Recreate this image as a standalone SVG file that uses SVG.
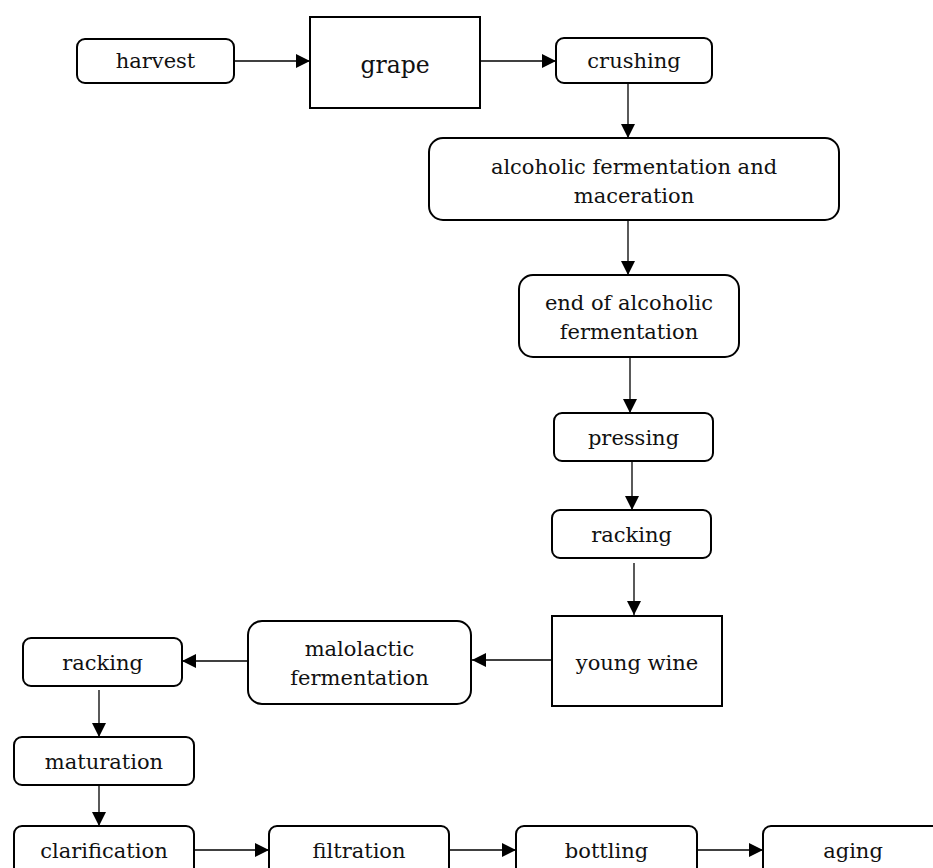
<svg xmlns="http://www.w3.org/2000/svg" width="933" height="868" viewBox="0 0 933 868">
<defs>
<marker id="ah" viewBox="0 0 14 14" refX="14" refY="7" markerWidth="14" markerHeight="14" markerUnits="userSpaceOnUse" orient="auto">
<path d="M0,0 L14,7 L0,14 Z" fill="#000"/>
</marker>
</defs>
<style>
.b{fill:#fff;stroke:#000;stroke-width:2}
.t{font-family:'DejaVu Serif','Liberation Serif',serif;font-size:21px;fill:#111;text-anchor:middle}
.big{font-size:23.5px}
.c{fill:none;stroke:#000;stroke-width:1.3;marker-end:url(#ah)}
</style>
<rect width="933" height="868" fill="#fff"/>
<g id="connectors">
<line class="c" x1="234" y1="61" x2="310" y2="61"/>
<line class="c" x1="480" y1="61" x2="556" y2="61"/>
<line class="c" x1="628" y1="84" x2="628" y2="138"/>
<line class="c" x1="628" y1="221" x2="628" y2="275"/>
<line class="c" x1="630" y1="358" x2="630" y2="413"/>
<line class="c" x1="632" y1="462" x2="632" y2="510"/>
<line class="c" x1="634" y1="563" x2="634" y2="615"/>
<line class="c" x1="552" y1="660" x2="472" y2="660"/>
<line class="c" x1="248" y1="661" x2="182" y2="661"/>
<line class="c" x1="99" y1="690" x2="99" y2="737"/>
<line class="c" x1="99" y1="785" x2="99" y2="826"/>
<line class="c" x1="194" y1="850" x2="269" y2="850"/>
<line class="c" x1="449" y1="850" x2="516" y2="850"/>
<line class="c" x1="697" y1="850" x2="763" y2="850"/>
</g>
<g id="harvest"><rect class="b" x="77" y="39" width="157" height="44" rx="8"/><text class="t" x="155.5" y="68">harvest</text></g>
<g id="grape"><rect class="b" x="310" y="17" width="170" height="91"/><text class="t big" x="395" y="73">grape</text></g>
<g id="crushing"><rect class="b" x="556" y="38" width="156" height="45" rx="8"/><text class="t" x="634" y="68">crushing</text></g>
<g id="alcoholic"><rect class="b" x="429" y="138" width="410" height="82" rx="14"/><text class="t" x="634" y="174">alcoholic fermentation and</text><text class="t" x="634" y="203">maceration</text></g>
<g id="endferm"><rect class="b" x="519" y="275" width="220" height="82" rx="14"/><text class="t" x="629" y="310">end of alcoholic</text><text class="t" x="629" y="339">fermentation</text></g>
<g id="pressing"><rect class="b" x="554" y="413" width="159" height="48" rx="8"/><text class="t" x="633.5" y="445">pressing</text></g>
<g id="racking1"><rect class="b" x="552" y="510" width="159" height="48" rx="8"/><text class="t" x="631.5" y="542">racking</text></g>
<g id="youngwine"><rect class="b" x="552" y="616" width="170" height="90"/><text class="t" x="637" y="670">young wine</text></g>
<g id="malolactic"><rect class="b" x="248" y="621" width="223" height="83" rx="14"/><text class="t" x="359.5" y="656">malolactic</text><text class="t" x="359.5" y="685">fermentation</text></g>
<g id="racking2"><rect class="b" x="23" y="638" width="159" height="48" rx="8"/><text class="t" x="102.5" y="670">racking</text></g>
<g id="maturation"><rect class="b" x="14" y="737" width="180" height="48" rx="8"/><text class="t" x="104" y="769">maturation</text></g>
<g id="clarification"><rect class="b" x="14" y="826" width="180" height="60" rx="8"/><text class="t" x="104" y="858">clarification</text></g>
<g id="filtration"><rect class="b" x="269" y="826" width="180" height="60" rx="8"/><text class="t" x="359" y="858">filtration</text></g>
<g id="bottling"><rect class="b" x="516" y="826" width="181" height="60" rx="8"/><text class="t" x="606.5" y="858">bottling</text></g>
<g id="aging"><rect class="b" x="763" y="826" width="190" height="60" rx="8"/><text class="t" x="853" y="858">aging</text></g>
</svg>
